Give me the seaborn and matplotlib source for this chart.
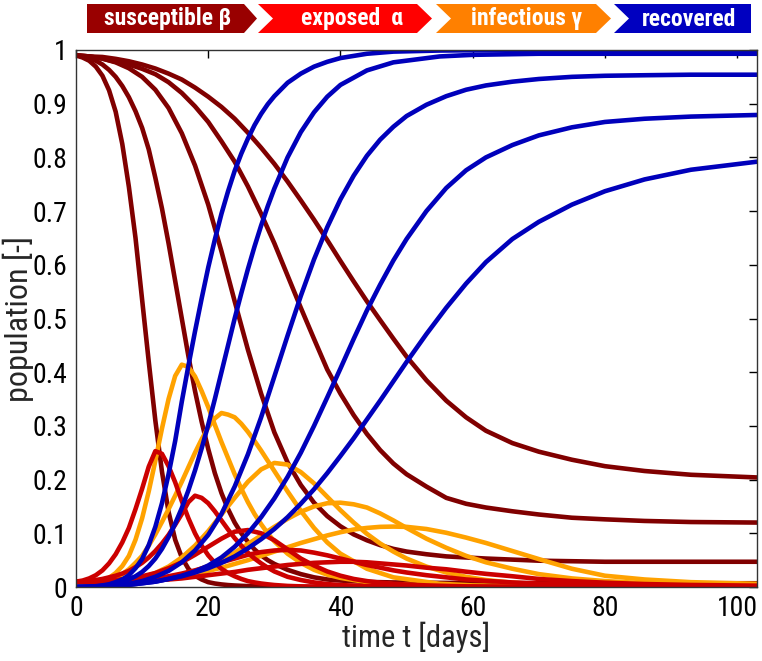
import matplotlib
matplotlib.use("Agg")
import matplotlib.pyplot as plt
import pandas as pd
import seaborn as sns
from matplotlib import font_manager as fm
from matplotlib.patches import Polygon

# ---------------- data ----------------
# runs 1-2 change quickly: daily readings up to day 30
time_fast = list(range(0, 31)) + [32, 34, 36, 38, 40, 44, 48, 55, 60, 70, 80, 90, 103]
# runs 3-5 change slowly
time_slow = [0, 2, 4, 6, 8, 10, 12, 14, 16, 18, 20, 22, 24, 26, 28, 30, 32, 34, 36, 38,
             40, 42, 44, 46, 48, 50, 53, 56, 59, 62, 66, 70, 75, 80, 86, 93, 103]

susceptible = [
    [0.99, 0.986, 0.98, 0.969, 0.952, 0.925, 0.885, 0.825, 0.745, 0.65, 0.535, 0.42, 0.31, 0.215,
     0.14, 0.088, 0.055, 0.034, 0.021, 0.014, 0.009, 0.0065, 0.0048, 0.0036, 0.0028, 0.0022,
     0.0017, 0.0013, 0.001, 0.0008, 0.0006,
     0.0005, 0.0004, 0.0003, 0.0003, 0.0002, 0.0002, 0.0002, 0.0002, 0.0002, 0.0002, 0.0002, 0.0002, 0.0002],
    [0.99, 0.988, 0.985, 0.98, 0.973, 0.963, 0.95, 0.933, 0.912, 0.886, 0.855, 0.815, 0.762, 0.705,
     0.64, 0.57, 0.5, 0.43, 0.365, 0.308, 0.257, 0.212, 0.175, 0.145, 0.12, 0.1, 0.084, 0.07,
     0.059, 0.05, 0.043,
     0.032, 0.024, 0.018, 0.014, 0.012, 0.0095, 0.0085, 0.0077, 0.0074, 0.0071, 0.007, 0.007, 0.007],
    [0.99, 0.988, 0.984, 0.977, 0.966, 0.95, 0.926, 0.892, 0.845, 0.785, 0.712, 0.625, 0.532, 0.442,
     0.36, 0.288, 0.232, 0.19, 0.157, 0.132, 0.113, 0.098, 0.087, 0.078, 0.071, 0.066,
     0.061, 0.057, 0.055, 0.053, 0.051, 0.049, 0.048, 0.047, 0.047, 0.047, 0.047],
    [0.99, 0.988, 0.984, 0.978, 0.973, 0.965, 0.955, 0.94, 0.92, 0.895, 0.866, 0.83, 0.792, 0.746,
     0.695, 0.64, 0.58, 0.52, 0.462, 0.405, 0.36, 0.32, 0.285, 0.255, 0.23, 0.21,
     0.187, 0.166, 0.155, 0.148, 0.141, 0.135, 0.129, 0.126, 0.123, 0.121, 0.12],
    [0.99, 0.988, 0.987, 0.9835, 0.979, 0.973, 0.9655, 0.956, 0.945, 0.93, 0.913, 0.894, 0.872, 0.846,
     0.818, 0.788, 0.755, 0.72, 0.684, 0.646, 0.607, 0.569, 0.532, 0.497, 0.4625, 0.429,
     0.385, 0.347, 0.316, 0.291, 0.268, 0.252, 0.237, 0.225, 0.216, 0.209, 0.204],
]

exposed = [
    [0.01, 0.012, 0.016, 0.022, 0.031, 0.044, 0.061, 0.083, 0.11, 0.145, 0.183, 0.224, 0.253, 0.248,
     0.225, 0.195, 0.16, 0.128, 0.1, 0.077, 0.059, 0.045, 0.034, 0.026, 0.02, 0.015, 0.011, 0.0085,
     0.0065, 0.005, 0.0037,
     0.002, 0.0012, 0.0007, 0.0004, 0.0002, 0.0001, 0, 0, 0, 0, 0, 0, 0],
    [0.01, 0.0105, 0.0115, 0.013, 0.015, 0.018, 0.021, 0.025, 0.03, 0.037, 0.045, 0.055, 0.067, 0.081,
     0.097, 0.116, 0.136, 0.158, 0.17, 0.166, 0.156, 0.141, 0.124, 0.107, 0.091, 0.077, 0.064, 0.053,
     0.044, 0.036, 0.029,
     0.019, 0.013, 0.0085, 0.0055, 0.0036, 0.0016, 0.0007, 0.0002, 0.0001, 0, 0, 0, 0],
    [0.01, 0.01, 0.011, 0.013, 0.016, 0.02, 0.026, 0.035, 0.046, 0.06, 0.075, 0.09, 0.103, 0.106,
     0.1, 0.087, 0.07, 0.053, 0.04, 0.029, 0.021, 0.015, 0.011, 0.008, 0.006, 0.0045,
     0.003, 0.002, 0.0012, 0.0008, 0.0004, 0.0002, 0.0001, 0, 0, 0, 0],
    [0.01, 0.0095, 0.0095, 0.01, 0.011, 0.013, 0.016, 0.02, 0.025, 0.031, 0.038, 0.046, 0.053, 0.06,
     0.065, 0.068, 0.069, 0.068, 0.064, 0.059, 0.053, 0.047, 0.041, 0.036, 0.031, 0.027,
     0.022, 0.018, 0.014, 0.0115, 0.0085, 0.0065, 0.0045, 0.003, 0.002, 0.0012, 0.0007],
    [0.01, 0.0095, 0.0093, 0.0095, 0.01, 0.011, 0.0125, 0.014, 0.016, 0.019, 0.022, 0.025, 0.028, 0.032,
     0.035, 0.038, 0.041, 0.043, 0.045, 0.046, 0.047, 0.047, 0.046, 0.044, 0.042, 0.04,
     0.036, 0.033, 0.0285, 0.0245, 0.02, 0.015, 0.011, 0.008, 0.0055, 0.0038, 0.0025],
]

infectious = [
    [0, 0.002, 0.004, 0.007, 0.011, 0.017, 0.026, 0.039, 0.058, 0.088, 0.128, 0.178, 0.235, 0.295,
     0.35, 0.393, 0.414, 0.41, 0.392, 0.365, 0.335, 0.302, 0.27, 0.24, 0.21, 0.183, 0.158, 0.136,
     0.117, 0.1, 0.085,
     0.062, 0.045, 0.032, 0.023, 0.017, 0.009, 0.005, 0.0018, 0.0009, 0.0002, 0, 0, 0],
    [0, 0.0015, 0.003, 0.005, 0.008, 0.012, 0.017, 0.024, 0.033, 0.045, 0.058, 0.077, 0.098, 0.121,
     0.145, 0.17, 0.196, 0.223, 0.25, 0.275, 0.297, 0.314, 0.324, 0.321, 0.316, 0.304, 0.289, 0.272,
     0.254, 0.235, 0.216,
     0.178, 0.142, 0.11, 0.083, 0.062, 0.034, 0.018, 0.006, 0.003, 0.0007, 0.0002, 0, 0],
    [0, 0.002, 0.004, 0.007, 0.011, 0.017, 0.026, 0.038, 0.055, 0.077, 0.104, 0.135, 0.166, 0.196,
     0.219, 0.231, 0.228, 0.214, 0.193, 0.168, 0.143, 0.12, 0.099, 0.081, 0.066, 0.053,
     0.038, 0.027, 0.019, 0.013, 0.008, 0.005, 0.0025, 0.0013, 0.0006, 0.0002, 0],
    [0, 0.002, 0.004, 0.006, 0.008, 0.01, 0.013, 0.017, 0.023, 0.03, 0.039, 0.05, 0.064, 0.08,
     0.096, 0.112, 0.127, 0.14, 0.15, 0.156, 0.157, 0.154, 0.148, 0.137, 0.124, 0.11,
     0.09, 0.073, 0.058, 0.046, 0.034, 0.024, 0.016, 0.011, 0.007, 0.004, 0.002],
    [0, 0.002, 0.003, 0.005, 0.007, 0.009, 0.012, 0.015, 0.019, 0.024, 0.03, 0.036, 0.043, 0.05,
     0.058, 0.066, 0.074, 0.082, 0.089, 0.096, 0.102, 0.107, 0.11, 0.112, 0.1125, 0.112,
     0.108, 0.101, 0.092, 0.082, 0.067, 0.052, 0.034, 0.021, 0.014, 0.009, 0.006],
]

recovered = [
    [0, 0, 0.0005, 0.0015, 0.003, 0.005, 0.009, 0.014, 0.022, 0.035, 0.052, 0.078, 0.112, 0.156,
     0.21, 0.272, 0.345, 0.412, 0.476, 0.537, 0.595, 0.647, 0.695, 0.737, 0.775, 0.807, 0.835, 0.86,
     0.881, 0.899, 0.914,
     0.939, 0.956, 0.969, 0.978, 0.985, 0.993, 0.997, 0.999, 0.9995, 0.9998, 0.9998, 0.9998, 0.9998],
    [0, 0.0002, 0.0005, 0.001, 0.002, 0.004, 0.006, 0.009, 0.014, 0.02, 0.028, 0.039, 0.053, 0.071,
     0.093, 0.118, 0.147, 0.18, 0.217, 0.258, 0.302, 0.35, 0.4, 0.45, 0.5, 0.547, 0.592, 0.634,
     0.673, 0.709, 0.742,
     0.8, 0.847, 0.884, 0.913, 0.935, 0.962, 0.977, 0.988, 0.991, 0.993, 0.993, 0.993, 0.993],
    [0, 0.0002, 0.001, 0.003, 0.006, 0.011, 0.019, 0.03, 0.046, 0.068, 0.097, 0.136, 0.187, 0.247,
     0.316, 0.392, 0.468, 0.542, 0.61, 0.67, 0.722, 0.766, 0.803, 0.833, 0.857, 0.877,
     0.898, 0.914, 0.926, 0.934, 0.941, 0.946, 0.95, 0.952, 0.953, 0.954, 0.954],
    [0, 0.0003, 0.001, 0.002, 0.004, 0.007, 0.01, 0.015, 0.021, 0.029, 0.04, 0.055, 0.075, 0.1,
     0.13, 0.165, 0.205, 0.25, 0.3, 0.353, 0.407, 0.462, 0.515, 0.563, 0.608, 0.648,
     0.7, 0.743, 0.776, 0.8, 0.823, 0.841, 0.856, 0.866, 0.872, 0.876, 0.879],
    [0, 0.0003, 0.001, 0.002, 0.004, 0.007, 0.01, 0.015, 0.02, 0.027, 0.035, 0.045, 0.057, 0.072,
     0.089, 0.108, 0.13, 0.155, 0.182, 0.212, 0.244, 0.277, 0.312, 0.347, 0.383, 0.419,
     0.471, 0.52, 0.565, 0.605, 0.648, 0.68, 0.712, 0.737, 0.759, 0.777, 0.792],
]
run_times = [time_fast, time_fast, time_slow, time_slow, time_slow]

compartments = ["susceptible", "infectious", "exposed", "recovered"]
line_colors = {"susceptible": "#800000", "exposed": "#CC0000",
               "infectious": "#FFA200", "recovered": "#0000BB"}
x_ticks = [0, 20, 40, 60, 80, 100]
y_ticks = [0, 0.1, 0.2, 0.3, 0.4, 0.5, 0.6, 0.7, 0.8, 0.9, 1.0]
y_tick_labels = ["0", "0.1", "0.2", "0.3", "0.4", "0.5", "0.6", "0.7", "0.8", "0.9", "1"]
legend_labels = ["susceptible \u03b2", "exposed  \u03b1", "infectious \u03b3", "recovered"]
legend_colors = ["#990000", "#FF0000", "#FF8000", "#0000C0"]

# ---------------- long table ----------------
series = {"susceptible": susceptible, "exposed": exposed,
          "infectious": infectious, "recovered": recovered}
rows = []
for name in compartments:
    for run, values in enumerate(series[name]):
        times = run_times[run]
        assert len(values) == len(times), (name, run, len(values), len(times))
        for t, v in zip(times, values):
            rows.append((name, run, t, v))
df = pd.DataFrame(rows, columns=["compartment", "run", "t", "value"])

# ---------------- style ----------------
sns.set_theme(style="white")
fonts = fm.fontManager.ttflist
names = {f.name for f in fonts}
stretch = "normal"
if "Liberation Sans Narrow" in names:
    family, condensed = "Liberation Sans Narrow", True
elif "Roboto Condensed" in names:
    family, condensed = "Roboto Condensed", True
elif any(f.name == "DejaVu Sans" and "condensed" in str(f.stretch) for f in fonts):
    family, condensed, stretch = "DejaVu Sans", True, "condensed"
else:
    family, condensed = "Liberation Sans", False
plt.rcParams["font.family"] = [family, "DejaVu Sans"]
plt.rcParams["font.stretch"] = stretch

W, H = 762, 661
fig = plt.figure(figsize=(W / 100, H / 100), dpi=100)
fig.patch.set_facecolor("white")
ax = fig.add_axes([76 / W, 1 - 587 / H, (757 - 76) / W, (587 - 50) / H])

sns.lineplot(data=df, x="t", y="value", hue="compartment", units="run",
             estimator=None, hue_order=compartments, palette=line_colors,
             linewidth=3.3, legend=False, sort=False, ax=ax)

tick_size = 20 if condensed else 18.5
ax.set_xlim(0, 103)
ax.set_ylim(0, 1)
ax.set_xticks(x_ticks)
ax.set_xticklabels([str(v) for v in x_ticks])
ax.set_yticks(y_ticks)
ax.set_yticklabels(y_tick_labels)
ax.tick_params(direction="in", length=6, width=1, top=True, right=True,
               labelsize=tick_size, pad=6, colors="black")
for sp in ax.spines.values():
    sp.set_linewidth(1.0)
    sp.set_color("#333333")
    sp.set_visible(True)
ax.set_xlabel("time t [days]", fontsize=22 if condensed else 20, va="center")
ax.xaxis.set_label_coords(0.5, -0.093)
ax.set_ylabel("population [-]", fontsize=23 if condensed else 20, va="center")
ax.yaxis.set_label_coords(-0.084, 0.5)

# ---------------- chevron legend header ----------------
def fx(x):
    return x / W

def fy(y):
    return 1 - y / H

top, mid, bot = 4, 18.5, 33
shapes = [
    [(87, top), (244, top), (257, mid), (244, bot), (87, bot)],
    [(258, top), (417, top), (432, mid), (417, bot), (258, bot), (273, mid)],
    [(436, top), (596, top), (611, mid), (596, bot), (436, bot), (451, mid)],
    [(614, top), (751, top), (751, bot), (614, bot), (629, mid)],
]
centers = [167, 352, 527, 689]
legend_size = 17 if condensed else 14
for pts, col, lab, cx in zip(shapes, legend_colors, legend_labels, centers):
    poly = Polygon([(fx(x), fy(y)) for x, y in pts], closed=True,
                   transform=fig.transFigure, facecolor=col, edgecolor="none")
    fig.add_artist(poly)
    fig.text(fx(cx), fy(mid + 0.5), lab, color="white", fontsize=legend_size,
             fontweight="bold", ha="center", va="center")

fig.savefig("out.png", dpi=100, facecolor="white")
